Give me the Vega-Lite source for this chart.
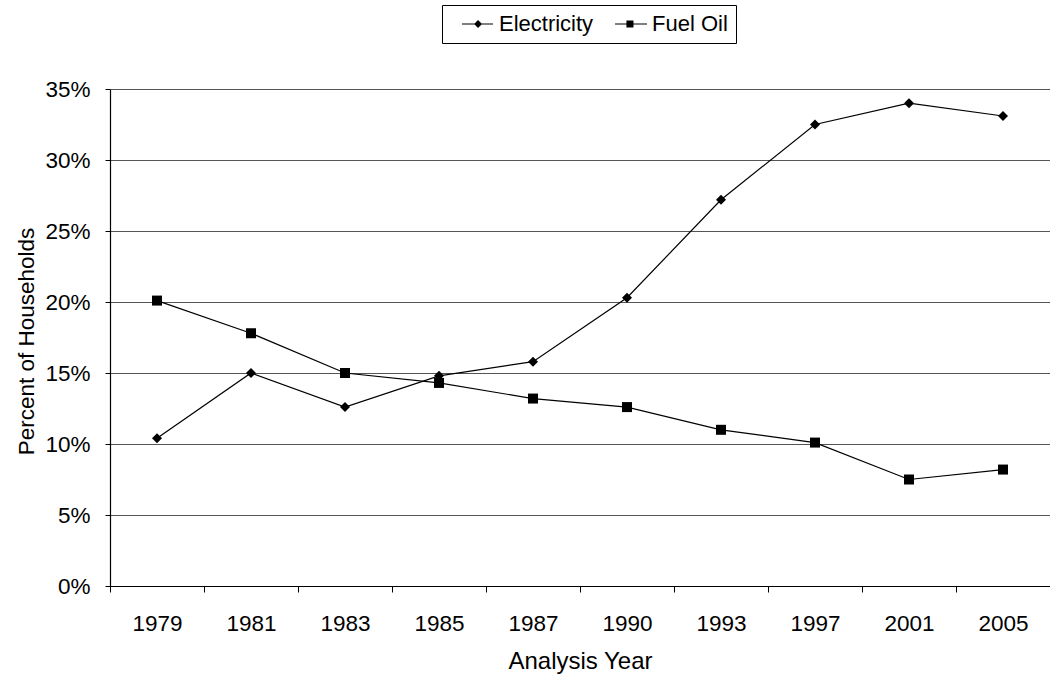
{
  "$schema": "https://vega.github.io/schema/vega-lite/v6.json",
  "width": 940,
  "height": 497,
  "autosize": {"type": "none"},
  "padding": {"left": 110, "top": 89, "right": 0, "bottom": 91},
  "background": "white",
  "config": {
    "view": {"stroke": null},
    "font": "Liberation Sans",
    "axis": {
      "labelFont": "Liberation Sans",
      "titleFont": "Liberation Sans",
      "labelFontSize": 22.5,
      "titleFontWeight": "normal",
      "labelColor": "black",
      "titleColor": "black",
      "domainColor": "black",
      "tickColor": "black",
      "domainWidth": 1.2,
      "tickWidth": 1
    },
    "legend": {"labelFont": "Liberation Sans"}
  },
  "data": {
    "values": [
      {"year": "1979", "series": "Electricity", "pct": 0.104},
      {"year": "1981", "series": "Electricity", "pct": 0.150},
      {"year": "1983", "series": "Electricity", "pct": 0.126},
      {"year": "1985", "series": "Electricity", "pct": 0.148},
      {"year": "1987", "series": "Electricity", "pct": 0.158},
      {"year": "1990", "series": "Electricity", "pct": 0.203},
      {"year": "1993", "series": "Electricity", "pct": 0.272},
      {"year": "1997", "series": "Electricity", "pct": 0.325},
      {"year": "2001", "series": "Electricity", "pct": 0.340},
      {"year": "2005", "series": "Electricity", "pct": 0.331},
      {"year": "1979", "series": "Fuel Oil", "pct": 0.201},
      {"year": "1981", "series": "Fuel Oil", "pct": 0.178},
      {"year": "1983", "series": "Fuel Oil", "pct": 0.150},
      {"year": "1985", "series": "Fuel Oil", "pct": 0.143},
      {"year": "1987", "series": "Fuel Oil", "pct": 0.132},
      {"year": "1990", "series": "Fuel Oil", "pct": 0.126},
      {"year": "1993", "series": "Fuel Oil", "pct": 0.110},
      {"year": "1997", "series": "Fuel Oil", "pct": 0.101},
      {"year": "2001", "series": "Fuel Oil", "pct": 0.075},
      {"year": "2005", "series": "Fuel Oil", "pct": 0.082}
    ]
  },
  "encoding": {
    "x": {
      "field": "year",
      "type": "ordinal",
      "scale": {"type": "band", "paddingInner": 0, "paddingOuter": 0},
      "axis": {
        "title": "Analysis Year",
        "titleFontSize": 24,
        "labelAngle": 0,
        "tickBand": "extent",
        "tickSize": 6,
        "labelBaseline": "alphabetic",
        "labelPadding": 38,
        "grid": false,
        "titleY": 82,
        "titleBaseline": "alphabetic"
      }
    },
    "y": {
      "field": "pct",
      "type": "quantitative",
      "scale": {"domain": [0, 0.35]},
      "axis": {
        "title": "Percent of Households",
        "titleFontSize": 22.5,
        "format": ".0%",
        "values": [0, 0.05, 0.1, 0.15, 0.2, 0.25, 0.3, 0.35],
        "grid": true,
        "gridColor": "#555555",
        "gridWidth": 1,
        "tickSize": 5,
        "labelPadding": 15,
        "titleX": -77,
        "titleY": 252,
        "titleBaseline": "alphabetic"
      }
    }
  },
  "layer": [
    {
      "mark": {"type": "line", "color": "black", "strokeWidth": 1.2},
      "encoding": {"detail": {"field": "series"}}
    },
    {
      "mark": {"type": "point", "filled": true, "color": "black", "opacity": 1, "size": 100},
      "encoding": {
        "shape": {
          "field": "series",
          "type": "nominal",
          "scale": {"domain": ["Electricity", "Fuel Oil"], "range": ["diamond", "square"]},
          "legend": null
        }
      }
    },
    {
      "transform": [{"filter": "datum.pct < 0"}],
      "mark": {"type": "point", "filled": true, "color": "black", "opacity": 1},
      "encoding": {
        "shape": {
          "field": "series",
          "type": "nominal",
          "scale": {
            "domain": ["Electricity", "Fuel Oil"],
            "range": [
              "M0.09,-0.055L2.91,-0.055L2.91,0.055L0.09,0.055ZM1.55,-0.36L1.91,0L1.55,0.36L1.19,0Z",
              "M0.09,-0.055L3,-0.055L3,0.055L0.09,0.055ZM1.13,-0.32L1.77,-0.32L1.77,0.32L1.13,0.32Z"
            ]
          },
          "legend": {
            "title": null,
            "orient": "none",
            "legendX": 332,
            "legendY": -84,
            "direction": "horizontal",
            "strokeColor": "black",
            "padding": 8,
            "symbolSize": 484,
            "symbolFillColor": "black",
            "symbolStrokeWidth": 0,
            "labelFontSize": 22,
            "labelColor": "black",
            "labelOffset": 27,
            "columnPadding": 9
          }
        }
      }
    }
  ],
  "resolve": {"scale": {"shape": "independent"}}
}
